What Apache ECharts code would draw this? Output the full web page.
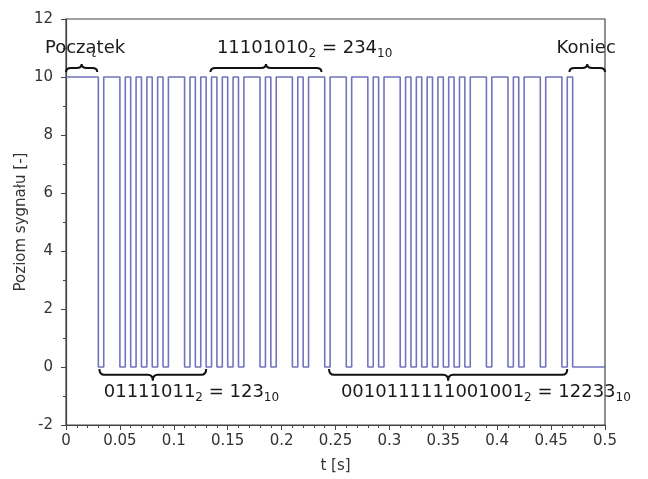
<!DOCTYPE html>
<html>
<head>
<meta charset="utf-8">
<script src="https://cdn.jsdelivr.net/npm/echarts@6/dist/echarts.min.js"></script>
<style>html,body{margin:0;padding:0;background:#fff}#c{width:648px;height:479px}</style>
</head>
<body>
<div id="c"></div>
<script>
// Signal: time at which each level starts, and the level held from that time
const signalTimes = [0,
  0.03,0.035, 0.05,0.055, 0.06,0.065, 0.07,0.075, 0.08,0.085, 0.09,0.095, 0.11,0.115, 0.12,0.125,
  0.13,0.135, 0.14,0.145, 0.15,0.155, 0.16,0.165, 0.18,0.185, 0.19,0.195, 0.21,0.215, 0.22,0.225,
  0.24,0.245, 0.26,0.265, 0.28,0.285, 0.29,0.295, 0.31,0.315, 0.32,0.325, 0.33,0.335, 0.34,0.345,
  0.35,0.355, 0.36,0.365, 0.37,0.375, 0.39,0.395, 0.41,0.415, 0.42,0.425, 0.44,0.445, 0.46,0.465,
  0.47, 0.5];
const signalLevels = [10,
  0,10, 0,10, 0,10, 0,10, 0,10, 0,10, 0,10, 0,10,
  0,10, 0,10, 0,10, 0,10, 0,10, 0,10, 0,10, 0,10,
  0,10, 0,10, 0,10, 0,10, 0,10, 0,10, 0,10, 0,10,
  0,10, 0,10, 0,10, 0,10, 0,10, 0,10, 0,10, 0,10,
  0, 0];

// Braces: start, end, end-level, flat-level, tip-level
const braceStart = [0, 0.134, 0.467, 0.031, 0.244];
const braceEnd   = [0.029, 0.237, 0.5, 0.13, 0.465];
const braceEndY  = [10.17, 10.17, 10.17, -0.07, -0.07];
const braceFlatY = [10.31, 10.31, 10.31, -0.27, -0.27];
const braceTipY  = [10.45, 10.45, 10.45, -0.47, -0.47];

// Annotation texts: main part and subscript parts
const annoBin  = ['Początek', '11101010', 'Koniec', '01111011', '0010111111001001'];
const annoDec  = ['', '234', '', '123', '12233'];
const annoX    = [-0.0195, 0.14, 0.455, 0.035, 0.255];
const annoY    = [11.0, 11.0, 11.0, -0.86, -0.86];

const xTicks = {min: 0, max: 0.5, interval: 0.05};
const yTicks = {min: -2, max: 12, interval: 2};

const signalData = signalTimes.map((t, i) => [t, signalLevels[i]]);
const braceData = braceStart.map((s, i) => [s, braceEnd[i], braceEndY[i], braceFlatY[i], braceTipY[i]]);
const annoData = annoX.map((x, i) => [x, annoY[i], i]);

const FONT = 'DejaVu Sans';
const chart = echarts.init(document.getElementById('c'));
chart.setOption({
  animation: false,
  backgroundColor: '#fff',
  grid: {left: 66, right: 43, top: 19, bottom: 53, show: true, borderColor: '#444', borderWidth: 1.2, backgroundColor: 'transparent'},
  xAxis: {
    type: 'value', min: xTicks.min, max: xTicks.max, interval: xTicks.interval,
    name: 't [s]', nameLocation: 'middle', nameGap: 34, nameMoveOverlap: false,
    nameTextStyle: {fontFamily: FONT, fontSize: 15, color: '#333'},
    axisLine: {show: true, onZero: false, lineStyle: {color: '#444', width: 1.2}},
    axisTick: {show: true, inside: false, length: 5, lineStyle: {color: '#444'}},
    minorTick: {show: true, splitNumber: 5, length: 3, lineStyle: {color: '#444'}},
    splitLine: {show: false},
    axisLabel: {fontFamily: FONT, fontSize: 15, color: '#333', margin: 9,
      formatter: v => String(Math.round(v * 100) / 100)}
  },
  yAxis: {
    type: 'value', min: yTicks.min, max: yTicks.max, interval: yTicks.interval,
    name: 'Poziom sygnału [-]', nameLocation: 'middle', nameGap: 37, nameMoveOverlap: false,
    nameTextStyle: {fontFamily: FONT, fontSize: 15, color: '#333'},
    axisLine: {show: true, onZero: false, lineStyle: {color: '#444', width: 1.2}},
    axisTick: {show: true, inside: false, length: 5, lineStyle: {color: '#444'}},
    minorTick: {show: true, splitNumber: 2, length: 3, lineStyle: {color: '#444'}},
    splitLine: {show: false},
    axisLabel: {fontFamily: FONT, fontSize: 15, color: '#333', margin: 13}
  },
  series: [
    {
      type: 'line', data: signalData, step: 'end', symbol: 'none',
      lineStyle: {color: '#7373bd', width: 1.6}, z: 2
    },
    {
      type: 'custom', data: braceData, z: 3, silent: true,
      renderItem: function (params, api) {
        const pa = api.coord([api.value(0), api.value(2)]);
        const pb = api.coord([api.value(1), api.value(2)]);
        const yF = api.coord([api.value(0), api.value(3)])[1];
        const yT = api.coord([api.value(0), api.value(4)])[1];
        const x0 = pa[0], x1 = pb[0], yE = pa[1], xm = (x0 + x1) / 2;
        const r = Math.min(5, (x1 - x0) / 4);
        const d = 'M' + x0 + ' ' + yE + ' Q' + x0 + ' ' + yF + ' ' + (x0 + r) + ' ' + yF +
          ' L' + (xm - r) + ' ' + yF + ' Q' + xm + ' ' + yF + ' ' + xm + ' ' + yT +
          ' Q' + xm + ' ' + yF + ' ' + (xm + r) + ' ' + yF +
          ' L' + (x1 - r) + ' ' + yF + ' Q' + x1 + ' ' + yF + ' ' + x1 + ' ' + yE;
        return {type: 'path', shape: {pathData: d}, style: {stroke: '#111', fill: 'none', lineWidth: 2}};
      }
    },
    {
      type: 'custom', data: annoData, z: 4, silent: true,
      renderItem: function (params, api) {
        const i = api.value(2);
        const p = api.coord([api.value(0), api.value(1)]);
        let txt;
        if (annoDec[i]) {
          txt = '{m|' + annoBin[i] + '}{s|2}{m| = ' + annoDec[i] + '}{s|10}';
        } else {
          txt = '{m|' + annoBin[i] + '}';
        }
        return {
          type: 'text', x: p[0], y: p[1],
          style: {
            text: txt, align: 'left', verticalAlign: 'middle',
            fontFamily: FONT, fill: '#1a1a1a',
            rich: {
              m: {fontFamily: FONT, fontSize: 18, lineHeight: 24, fill: '#1a1a1a', color: '#1a1a1a', verticalAlign: 'middle'},
              s: {fontFamily: FONT, fontSize: 12, lineHeight: 12, fill: '#1a1a1a', color: '#1a1a1a', verticalAlign: 'bottom'}
            }
          }
        };
      }
    }
  ]
});
</script>
</body>
</html>
